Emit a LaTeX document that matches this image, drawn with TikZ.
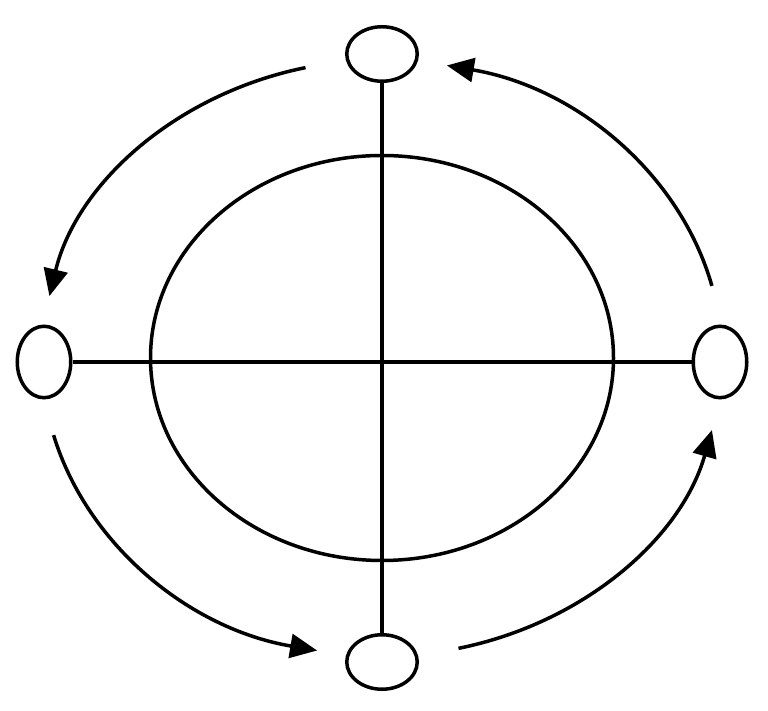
\documentclass[tikz,border=0pt]{standalone}
\usetikzlibrary{shapes.geometric,arrows.meta}
\begin{document}
\begin{tikzpicture}[x=1pt,y=1pt,line width=3.5pt,
  small/.style={draw,ellipse,inner sep=0pt},
  horiz/.style={small,minimum width=70.5pt,minimum height=54.5pt},
  vert/.style={small,minimum width=53.5pt,minimum height=71.5pt},
  orbit/.style={-{Triangle[length=27pt,width=24pt]}}]
\useasboundingbox (0,0) rectangle (768,711);
\coordinate (C) at (382,353);
\node[horiz] (T) at (382,657) {};
\node[horiz] (B) at (382,49) {};
\node[vert] (L) at (44,349) {};
\node[vert] (R) at (720,349) {};
\draw (C) ellipse [x radius=231.5, y radius=202.5];
\draw (T) -- (B);
\draw (L) -- (R);
\draw[orbit] ([shift={(103:340 and 298)}]C) arc[start angle=103, end angle=168, x radius=340, y radius=298];
\draw[orbit] ([shift={(14:340 and 298)}]C) arc[start angle=14, end angle=79, x radius=340, y radius=298];
\draw[orbit] ([shift={(195:340 and 298)}]C) arc[start angle=195, end angle=259, x radius=340, y radius=298];
\draw[orbit] ([shift={(283:340 and 298)}]C) arc[start angle=283, end angle=346, x radius=340, y radius=298];
\end{tikzpicture}
\end{document}
